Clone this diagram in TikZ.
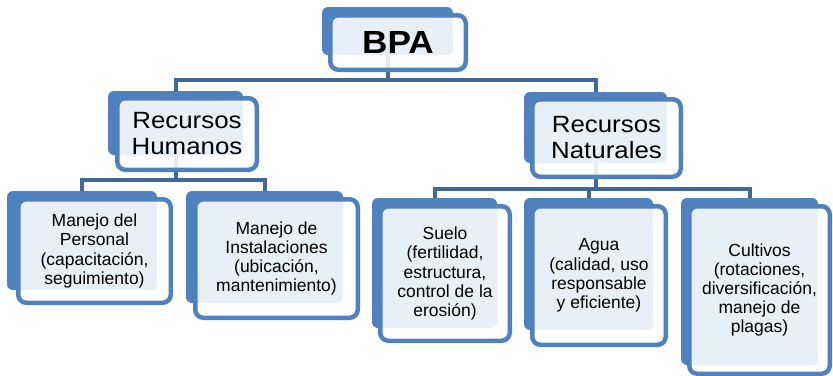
\documentclass[tikz,border=0pt]{standalone}
\usepackage{fontspec}
\setmainfont{Liberation Sans}
\newfontfamily\widefont[FakeStretch=1.1]{Liberation Sans}
\definecolor{acc}{RGB}{79,129,189}
\definecolor{conncol}{RGB}{64,104,152}
\begin{document}
\begin{tikzpicture}[x=1pt,y=-1pt,
  backbox/.style={fill=acc, rounded corners=6pt, inner sep=0pt, outer sep=0pt},
  frontbox/.style={draw=acc, line width=4.5pt, fill=white, fill opacity=0.88, text opacity=1,
     rounded corners=8pt, inner sep=0pt, outer sep=0pt, align=center, text=black},
  conn/.style={draw=conncol, line width=4pt},
  small/.style={font=\fontsize{17.5}{19.2}\selectfont},
  mid/.style={font=\widefont\fontsize{23.5}{26}\selectfont},
  big/.style={font=\widefont\bfseries\fontsize{32}{36}\selectfont}]
\useasboundingbox (0,0) rectangle (833,375);
% back boxes
\node[backbox, minimum width=131pt, minimum height=48pt]  (bpaB) at (387.5,31) {};
\node[backbox, minimum width=135pt, minimum height=64pt]  (rhB)  at (175.5,123) {};
\node[backbox, minimum width=143pt, minimum height=71pt]  (rnB)  at (595.5,127.5) {};
\node[backbox, minimum width=150pt, minimum height=99pt]  (mpB)  at (82,240.5) {};
\node[backbox, minimum width=157pt, minimum height=112pt] (miB)  at (264.5,247) {};
\node[backbox, minimum width=125pt, minimum height=130pt] (suB)  at (434.5,263) {};
\node[backbox, minimum width=129pt, minimum height=132pt] (agB)  at (588.5,264) {};
\node[backbox, minimum width=137pt, minimum height=167pt] (cuB)  at (749.5,281.5) {};
% bus levels
\coordinate (bus0) at (0,80);
\coordinate (bus1) at (0,179.5);
\coordinate (bus2) at (0,188.5);
% connectors
\draw[conn] (bpaB.south) -- (bpaB.south |- bus0) -| (rhB.north);
\draw[conn] (bpaB.south) -- (bpaB.south |- bus0) -| (rnB.north);
\draw[conn] (rhB.south) -- (rhB.south |- bus1) -| (mpB.north);
\draw[conn] (rhB.south) -- (rhB.south |- bus1) -| (miB.north);
\draw[conn] (rnB.south) -- (rnB.south |- bus2) -| (suB.north);
\draw[conn] (rnB.south) -- (rnB.south |- bus2) -| (agB.north);
\draw[conn] (rnB.south) -- (rnB.south |- bus2) -| (cuB.north);
% front boxes
\node[frontbox, big, minimum width=135.5pt, minimum height=54.5pt] (bpa) at (398,42.5) {BPA};
\node[frontbox, mid, minimum width=139.5pt, minimum height=71.5pt] (rh) at (187,134) {Recursos\\Humanos};
\node[frontbox, mid, minimum width=148.5pt, minimum height=77.5pt] (rn) at (606.5,138) {Recursos\\Naturales};
\node[frontbox, small, minimum width=152.5pt, minimum height=103.5pt] (mp) at (94.5,251) {Manejo del\\Personal\\(capacitación,\\seguimiento)};
\node[frontbox, small, minimum width=162.5pt, minimum height=118.5pt] (mi) at (276.5,258.5) {Manejo de\\Instalaciones\\(ubicación,\\mantenimiento)};
\node[frontbox, small, minimum width=129.5pt, minimum height=134.5pt] (su) at (445,273.5) {Suelo\\(fertilidad,\\estructura,\\control de la\\erosión)};
\node[frontbox, small, minimum width=133.5pt, minimum height=138.5pt] (ag) at (599,275.5) {Agua\\(calidad, uso\\responsable\\y eficiente)};
\node[frontbox, small, minimum width=140.5pt, minimum height=167.5pt] (cu) at (759.5,290) {Cultivos\\(rotaciones,\\diversificación,\\manejo de\\plagas)};
\end{tikzpicture}
\end{document}
